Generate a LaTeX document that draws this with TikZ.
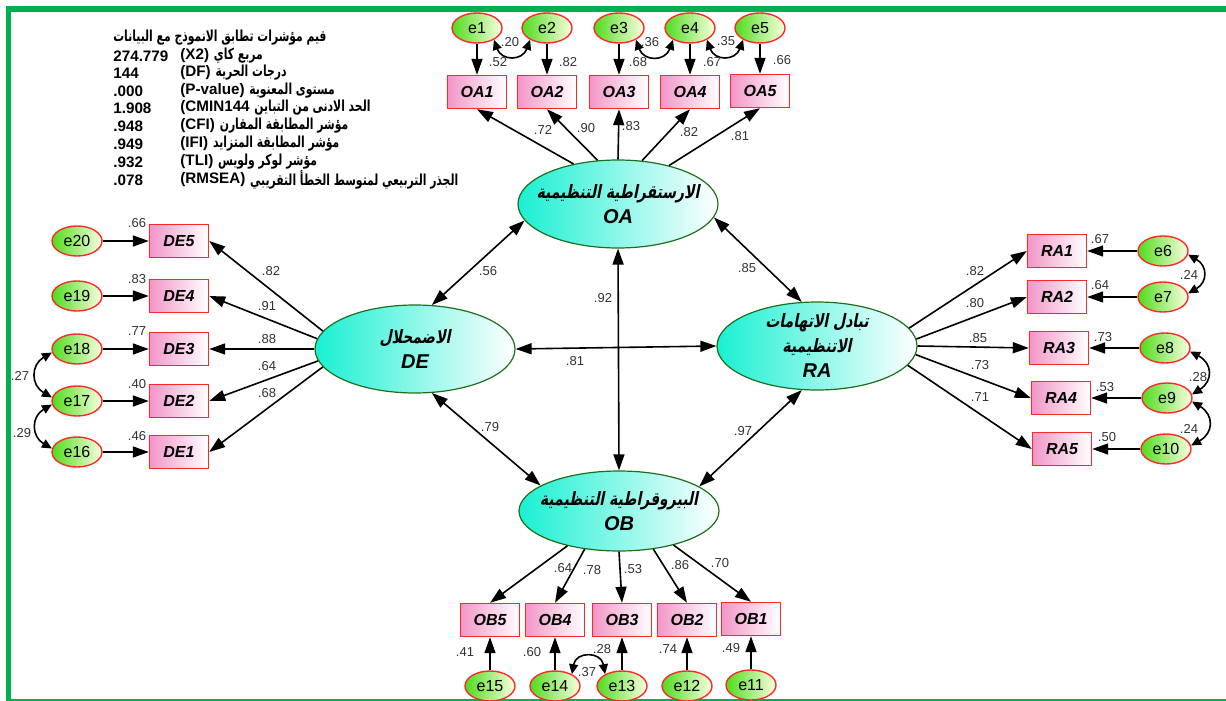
\documentclass[tikz,border=0pt]{standalone}
\usepackage{fontspec}
\setmainfont{Liberation Sans}
\newfontfamily\arabicfont[Script=Arabic,FakeStretch=0.71]{DejaVu Sans}
\newfontfamily\arabicslant[Script=Arabic,FakeSlant=0.2,FakeStretch=0.76]{DejaVu Sans}
\TeXXeTstate=1
\usetikzlibrary{positioning,shapes.geometric,arrows.meta}
\definecolor{frame}{RGB}{0,176,80}
\definecolor{latfill}{RGB}{25,240,210}
\definecolor{latline}{RGB}{30,110,30}
\definecolor{obsfill}{RGB}{242,150,200}
\definecolor{obsline}{RGB}{255,40,40}
\definecolor{errfill}{RGB}{80,220,30}
\definecolor{errlite}{RGB}{250,255,225}
\definecolor{numcol}{RGB}{50,50,50}
\newcommand{\arab}[1]{{\arabicfont\bfseries\upshape\beginR #1\endR}}
\newcommand{\arabit}[1]{{\fontsize{9.2}{12}\arabicslant\bfseries\upshape\beginR #1\endR}}

\begin{document}
\begin{tikzpicture}[x=0.5pt,y=-0.5pt]
        \tikzstyle{lat}=[ellipse, draw=latline, line width=0.6pt, left color=latfill, right color=white, minimum width=100pt, minimum height=44pt, inner sep=-5pt, align=center, font=\fontsize{10}{12.5}\selectfont\bfseries\itshape]
        \tikzstyle{obs}=[rectangle, draw=obsline, line width=0.7pt, left color=obsfill, right color=white, minimum width=29.5pt, minimum height=16.5pt, inner sep=0pt, font=\fontsize{8}{9}\selectfont\bfseries\itshape]
        \tikzstyle{err}=[ellipse, draw=obsline, line width=0.7pt, left color=errfill, right color=errlite, minimum width=25pt, minimum height=15pt, inner sep=0pt, font=\fontsize{8}{9}\selectfont]
        \tikzstyle{num}=[font=\fontsize{6.5}{7}\selectfont, text=numcol, inner sep=0pt]
        \tikzstyle{info}=[font=\fontsize{7.6}{9}\selectfont\bfseries, inner sep=0pt, anchor=west]
        \tikzstyle{load}=[line width=0.8pt, -{Triangle[length=8pt,width=5.5pt]}]
        \tikzstyle{corr}=[line width=0.8pt, {Triangle[length=8pt,width=5.5pt]}-{Triangle[length=8pt,width=5.5pt]}]
        \tikzstyle{cov}=[line width=0.8pt, {Triangle[length=5pt,width=4.5pt]}-{Triangle[length=5pt,width=4.5pt]}]

        \useasboundingbox (0,0) rectangle (1226,701);
        \draw[frame, line width=2.8pt, line join=miter] (8.5,701) -- (8.5,9) -- (1226,9);
        \draw[frame, line width=0.6pt] (8.5,700) -- (1226,700);

        % fit indices
        \node[info] (title) at (113,38) {\arab{قيم مؤشرات تطابق الانموذج مع البيانات}};
        \node[info] (n1) at (113,56) {274.779};
        \node[info] (c1) at (180,56) {(X2)};
        \node[info] (a1) [right=2pt of c1] {\arab{مربع كاي}};
        \node[info] (n2) at (113,73) {144};
        \node[info] (c2) at (180,73) {(DF)};
        \node[info] (a2) [right=2pt of c2] {\arab{درجات الحرية}};
        \node[info] (n3) at (113,91) {.000};
        \node[info] (c3) at (180,91) {(P-value)};
        \node[info] (a3) [right=2pt of c3] {\arab{مستوى المعنوية}};
        \node[info] (n4) at (113,108) {1.908};
        \node[info] (c4) at (180,108) {(CMIN144};
        \node[info] (a4) [right=2pt of c4] {\arab{الحد الادنى من التباين}};
        \node[info] (n5) at (113,126) {.948};
        \node[info] (c5) at (180,126) {(CFI)};
        \node[info] (a5) [right=2pt of c5] {\arab{مؤشر المطابقة المقارن}};
        \node[info] (n6) at (113,144) {.949};
        \node[info] (c6) at (180,144) {(IFI)};
        \node[info] (a6) [right=2pt of c6] {\arab{مؤشر المطابقة المتزايد}};
        \node[info] (n7) at (113,162) {.932};
        \node[info] (c7) at (180,162) {(TLI)};
        \node[info] (a7) [right=2pt of c7] {\arab{مؤشر لوكر ولويس}};
        \node[info] (n8) at (113,180) {.078};
        \node[info] (c8) at (180,180) {(RMSEA)};
        \node[info] (a8) [right=2pt of c8] {\arab{الجذر التربيعي لمتوسط الخطأ التقريبي}};

        % latent variables
        \node[lat] (OA) at (618,204) {\makebox[0pt]{\arabit{الارستقراطية التنظيمية}}\\OA};
        \node[lat] (DE) at (415,349) {\makebox[0pt]{\arabit{الاضمحلال}}\\DE};
        \node[lat] (RA) at (817,346) {\makebox[0pt]{\arabit{تبادل الاتهامات}}\\\makebox[0pt]{\arabit{الاتنظيمية}}\\RA};
        \node[lat, minimum height=40pt] (OB) at (619,511) {\makebox[0pt]{\arabit{البيروقراطية التنظيمية}}\\OB};

        % OA block
        \node[obs] (OA1) at (477,92) {OA1};
        \node[obs] (OA2) at (547,92) {OA2};
        \node[obs] (OA3) at (619,92) {OA3};
        \node[obs] (OA4) at (690,92) {OA4};
        \node[obs] (OA5) at (760,91) {OA5};
        \node[err] (e1) at (477,28) {e1};
        \node[err] (e2) at (547,28) {e2};
        \node[err] (e3) at (619,28) {e3};
        \node[err] (e4) at (690,28) {e4};
        \node[err] (e5) at (760,28) {e5};

        % DE block
        \node[obs] (DE5) at (179,241) {DE5};
        \node[obs] (DE4) at (179,296) {DE4};
        \node[obs] (DE3) at (179,349) {DE3};
        \node[obs] (DE2) at (179,401) {DE2};
        \node[obs] (DE1) at (179,452) {DE1};
        \node[err] (e20) at (77,241) {e20};
        \node[err] (e19) at (77,296) {e19};
        \node[err] (e18) at (77,349) {e18};
        \node[err] (e17) at (77,401) {e17};
        \node[err] (e16) at (77,452) {e16};

        % RA block
        \node[obs] (RA1) at (1057,251) {RA1};
        \node[obs] (RA2) at (1057,297) {RA2};
        \node[obs] (RA3) at (1059,348) {RA3};
        \node[obs] (RA4) at (1061,398) {RA4};
        \node[obs] (RA5) at (1062,449) {RA5};
        \node[err] (e6) at (1163,251) {e6};
        \node[err] (e7) at (1163,297) {e7};
        \node[err] (e8) at (1165,348) {e8};
        \node[err] (e9) at (1167,398) {e9};
        \node[err] (e10) at (1166,449) {e10};

        % OB block
        \node[obs] (OB5) at (490,620) {OB5};
        \node[obs] (OB4) at (555,620) {OB4};
        \node[obs] (OB3) at (622,620) {OB3};
        \node[obs] (OB2) at (687,620) {OB2};
        \node[obs] (OB1) at (751,619) {OB1};
        \node[err] (e15) at (490,686) {e15};
        \node[err] (e14) at (555,686) {e14};
        \node[err] (e13) at (622,686) {e13};
        \node[err] (e12) at (687,686) {e12};
        \node[err] (e11) at (751,685) {e11};

        % loadings
        \draw[load] (OA.138) -- (OA1.south);
        \draw[load] (OA.115) -- (OA2.south);
        \draw[load] (OA.90) -- (OA3.south);
        \draw[load] (OA.61) -- (OA4.south);
        \draw[load] (OA.37) -- (OA5.south);
        \draw[load] (DE.169) -- (DE5.east);
        \draw[load] (DE.174) -- (DE4.east);
        \draw[load] (DE.180) -- (DE3.east);
        \draw[load] (DE.187) -- (DE2.east);
        \draw[load] (DE.191) -- (DE1.east);
        \draw[load] (RA.11) -- (RA1.west);
        \draw[load] (RA.4) -- (RA2.west);
        \draw[load] (RA.0) -- (RA3.west);
        \draw[load] (RA.-5) -- (RA4.west);
        \draw[load] (RA.-12) -- (RA5.west);
        \draw[load] (OB.214) -- (OB5.north);
        \draw[load] (OB.228) -- (OB4.north);
        \draw[load] (OB.270) -- (OB3.north);
        \draw[load] (OB.312) -- (OB2.north);
        \draw[load] (OB.328) -- (OB1.north);

        % errors
        \draw[load] (e1) -- (OA1);
        \draw[load] (e2) -- (OA2);
        \draw[load] (e3) -- (OA3);
        \draw[load] (e4) -- (OA4);
        \draw[load] (e5) -- (OA5);
        \draw[load] (e20) -- (DE5);
        \draw[load] (e19) -- (DE4);
        \draw[load] (e18) -- (DE3);
        \draw[load] (e17) -- (DE2);
        \draw[load] (e16) -- (DE1);
        \draw[load] (e6) -- (RA1);
        \draw[load] (e7) -- (RA2);
        \draw[load] (e8) -- (RA3);
        \draw[load] (e9) -- (RA4);
        \draw[load] (e10) -- (RA5);
        \draw[load] (e15) -- (OB5);
        \draw[load] (e14) -- (OB4);
        \draw[load] (e13) -- (OB3);
        \draw[load] (e12) -- (OB2);
        \draw[load] (e11) -- (OB1);

        % error covariances
        \draw[cov] (e1.-35) to[bend right=70, looseness=1.6] (e2.215);
        \draw[cov] (e3.-35) to[bend right=70, looseness=1.6] (e4.215);
        \draw[cov] (e4.-35) to[bend right=70, looseness=1.6] (e5.215);
        \draw[cov] (e18.188) to[bend right=60, looseness=1.4] (e17.172);
        \draw[cov] (e17.188) to[bend right=60, looseness=1.4] (e16.172);
        \draw[cov] (e6.-8) to[bend left=60, looseness=1.5] (e7.8);
        \draw[cov] (e8.-8) to[bend left=60, looseness=1.5] (e9.8);
        \draw[cov] (e9.-8) to[bend left=60, looseness=1.5] (e10.8);
        \draw[cov] (e14.35) to[bend left=80, looseness=1.8] (e13.145);

        % factor correlations
        \draw[corr] (OA.190) -- (DE.69);
        \draw[corr] (OA.352) -- (RA.109);
        \draw[corr] (OA.south) -- (OB.north);
        \draw[corr] (DE.east) -- (RA.west);
        \draw[corr] (DE.291) -- (OB.162);
        \draw[corr] (RA.251) -- (OB.17);

        % estimates
        \node[num] (rOA1) at (498,62) {.52};
        \node[num] (rOA2) at (568,62) {.82};
        \node[num] (rOA3) at (638,62) {.68};
        \node[num] (rOA4) at (712,62) {.67};
        \node[num] (rOA5) at (782,60) {.66};
        \node[num] (wOA1) at (543,130) {.72};
        \node[num] (wOA2) at (586,128) {.90};
        \node[num] (wOA3) at (631,126) {.83};
        \node[num] (wOA4) at (689,132) {.82};
        \node[num] (wOA5) at (740,136) {.81};
        \node[num] (rDE5) at (137,223) {.66};
        \node[num] (rDE4) at (137,279) {.83};
        \node[num] (rDE3) at (137,331) {.77};
        \node[num] (rDE2) at (137,384) {.40};
        \node[num] (rDE1) at (137,436) {.46};
        \node[num] (wDE5) at (271,271) {.82};
        \node[num] (wDE4) at (267,306) {.91};
        \node[num] (wDE3) at (267,339) {.88};
        \node[num] (wDE2) at (267,366) {.64};
        \node[num] (wDE1) at (267,393) {.68};
        \node[num] (rRA1) at (1100,239) {.67};
        \node[num] (rRA2) at (1100,285) {.64};
        \node[num] (rRA3) at (1103,337) {.73};
        \node[num] (rRA4) at (1105,387) {.53};
        \node[num] (rRA5) at (1107,437) {.50};
        \node[num] (wRA1) at (975,271) {.82};
        \node[num] (wRA2) at (975,303) {.80};
        \node[num] (wRA3) at (978,338) {.85};
        \node[num] (wRA4) at (980,365) {.73};
        \node[num] (wRA5) at (980,397) {.71};
        \node[num] (rOB5) at (465,652) {.41};
        \node[num] (rOB4) at (532,652) {.60};
        \node[num] (rOB3) at (602,649) {.28};
        \node[num] (rOB2) at (668,649) {.74};
        \node[num] (rOB1) at (731,648) {.49};
        \node[num] (wOB5) at (563,568) {.64};
        \node[num] (wOB4) at (592,570) {.78};
        \node[num] (wOB3) at (633,569) {.53};
        \node[num] (wOB2) at (680,565) {.86};
        \node[num] (wOB1) at (720,563) {.70};
        \node[num] (c12) at (510,42) {.20};
        \node[num] (c34) at (650,42) {.36};
        \node[num] (c45) at (726,41) {.35};
        \node[num] (c1817) at (20,376) {.27};
        \node[num] (c1716) at (22,433) {.29};
        \node[num] (c67) at (1189,275) {.24};
        \node[num] (c89) at (1198,377) {.28};
        \node[num] (c910) at (1189,429) {.24};
        \node[num] (c1413) at (587,672) {.37};
        \node[num] (kOADE) at (488,271) {.56};
        \node[num] (kOARA) at (747,268) {.85};
        \node[num] (kOAOB) at (603,298) {.92};
        \node[num] (kDERA) at (575,361) {.81};
        \node[num] (kDEOB) at (490,427) {.79};
        \node[num] (kRAOB) at (743,431) {.97};

    \end{tikzpicture}
\end{document}
